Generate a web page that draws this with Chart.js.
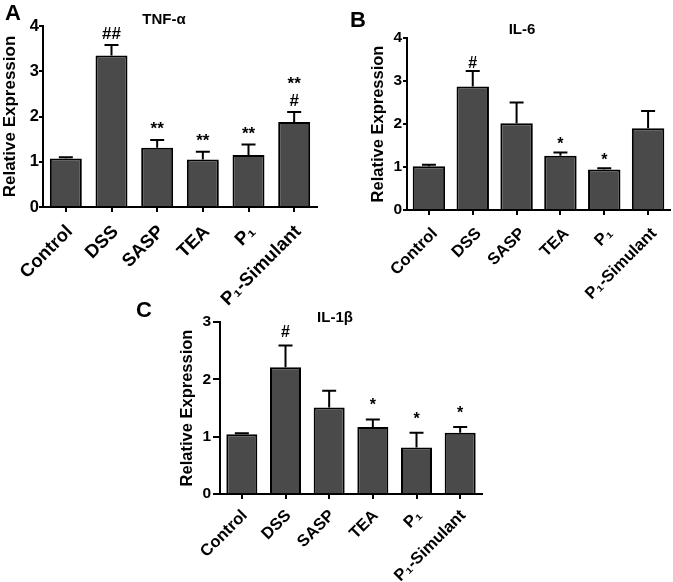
<!DOCTYPE html>
<html>
<head>
<meta charset="utf-8">
<script src="https://cdn.jsdelivr.net/npm/chart.js@4"></script>
<style>
  body { margin: 0; background: #fff; width: 673px; height: 582px; position: relative; overflow: hidden; font-family: "Liberation Sans", Arial, sans-serif; }
  canvas { position: absolute; }
  .lbl { position: absolute; font-weight: bold; color: #000; transform: translate(-50%, -50%); white-space: nowrap; }
</style>
</head>
<body>
<canvas id="chartA" width="335" height="310" style="left:0;top:0"></canvas>
<canvas id="chartB" width="333" height="310" style="left:340px;top:0"></canvas>
<canvas id="chartC" width="340" height="292" style="left:160px;top:290px"></canvas>

<div class="lbl" style="left:13px;top:13px;font-size:22px">A</div>
<div class="lbl" style="left:358px;top:20px;font-size:22px">B</div>
<div class="lbl" style="left:144px;top:310px;font-size:22px">C</div>
<div class="lbl" style="left:164px;top:18px;font-size:15px">TNF-α</div>
<div class="lbl" style="left:522px;top:28px;font-size:15px">IL-6</div>
<div class="lbl" style="left:335px;top:316px;font-size:15px">IL-1β</div>

<script>
const categories = ["Control", "DSS", "SASP", "TEA", "P₁", "P₁-Simulant"];

// A: TNF-α
const tnfMean = [1.07, 3.35, 1.31, 1.05, 1.15, 1.88];
const tnfErr = [0.03, 0.23, 0.17, 0.17, 0.23, 0.22];
const tnfMarks = [[], ["##"], ["**"], ["**"], ["**"], ["**", "#"]];

// B: IL-6
const il6Mean = [1.02, 2.87, 2.02, 1.26, 0.94, 1.90];
const il6Err = [0.03, 0.36, 0.48, 0.08, 0.03, 0.40];
const il6Marks = [[], ["#"], [], ["*"], ["*"], []];

// C: IL-1β
const il1bMean = [1.04, 2.21, 1.51, 1.17, 0.81, 1.07];
const il1bErr = [0.02, 0.38, 0.29, 0.13, 0.26, 0.10];
const il1bMarks = [[], ["#"], [], ["*"], ["*"], ["*"]];

const FONT = "'Liberation Sans', Arial, sans-serif";

// draws the upper error bar and the significance marks over each bar
function errorBars(style) {
  return {
    id: "errorBars",
    afterDatasetsDraw(chart) {
      const ctx = chart.ctx;
      const ds = chart.data.datasets[0];
      const y = chart.scales.y;
      const meta = chart.getDatasetMeta(0);
      ctx.save();
      ctx.strokeStyle = "#000";
      ctx.lineWidth = 2;
      ctx.fillStyle = "#000";
      ctx.font = "bold " + style.markSize + "px " + FONT;
      ctx.textAlign = "center";
      ctx.textBaseline = "alphabetic";
      meta.data.forEach((bar, i) => {
        const top = y.getPixelForValue(ds.data[i] + ds.errors[i]);
        ctx.beginPath();
        ctx.moveTo(bar.x, bar.y);
        ctx.lineTo(bar.x, top);
        ctx.moveTo(bar.x - style.cap / 2, top);
        ctx.lineTo(bar.x + style.cap / 2, top);
        ctx.stroke();
        const marks = ds.marks[i].slice().reverse();
        marks.forEach((m, k) => {
          ctx.fillText(m, bar.x, top - style.gap - k * style.lineH);
        });
      });
      ctx.restore();
    }
  };
}

function makeChart(id, mean, err, marks, yMax, look) {
  return new Chart(document.getElementById(id), {
    type: "bar",
    data: {
      labels: categories,
      datasets: [{
        data: mean,
        errors: err,
        marks: marks,
        backgroundColor: "#4a4a4a",
        borderColor: "#000",
        borderWidth: 2,
        barPercentage: look.barPct,
        categoryPercentage: 1
      }]
    },
    options: {
      responsive: false,
      animation: false,
      devicePixelRatio: 1,
      layout: { padding: look.pad },
      plugins: { legend: { display: false }, tooltip: { enabled: false } },
      scales: {
        x: {
          grid: { display: true, drawOnChartArea: false, offset: false, color: "#000", lineWidth: 2, tickLength: 5 },
          border: { color: "#000", width: 2 },
          ticks: {
            color: "#000",
            autoSkip: false,
            minRotation: 45,
            maxRotation: 45,
            padding: look.catPad,
            labelOffset: look.catShift,
            font: { family: FONT, weight: "bold", size: look.catSize }
          },
          afterFit: s => { s.height = look.xh; }
        },
        y: {
          min: 0,
          max: yMax,
          grid: { drawOnChartArea: false, color: "#000", lineWidth: 2, tickLength: look.tickLen },
          border: { color: "#000", width: 2 },
          ticks: {
            stepSize: 1,
            color: "#000",
            padding: look.tickPad,
            font: { family: FONT, weight: "bold", size: look.tickSize }
          },
          title: {
            display: true,
            text: "Relative Expression",
            color: "#000",
            padding: 0,
            font: { family: FONT, weight: "bold", size: look.titleSize }
          },
          afterFit: s => { s.width = look.yw; }
        }
      }
    },
    plugins: [errorBars(look.bars)]
  });
}

makeChart("chartA", tnfMean, tnfErr, tnfMarks, 4, {
  pad: { left: 0, right: 18, top: 26, bottom: 0 },
  yw: 43, xh: 103, barPct: 0.70,
  catSize: 18.5, catPad: 9, catShift: 4,
  tickSize: 16.5, titleSize: 17, tickLen: 4, tickPad: 0,
  bars: { cap: 14, gap: 6, lineH: 17, markSize: 17 }
});

makeChart("chartB", il6Mean, il6Err, il6Marks, 4, {
  pad: { left: 29, right: 3, top: 38, bottom: 0 },
  yw: 38, xh: 100, barPct: 0.74,
  catSize: 16.5, catPad: 9, catShift: 6,
  tickSize: 15.5, titleSize: 16.5, tickLen: 4, tickPad: 1,
  bars: { cap: 14, gap: 3, lineH: 16, markSize: 16 }
});

makeChart("chartC", il1bMean, il1bErr, il1bMarks, 3, {
  pad: { left: 18, right: 18, top: 32, bottom: 0 },
  yw: 42, xh: 88, barPct: 0.71,
  catSize: 16.5, catPad: 7, catShift: 3,
  tickSize: 15.5, titleSize: 16.5, tickLen: 7, tickPad: 2,
  bars: { cap: 14, gap: 9, lineH: 16, markSize: 16 }
});
</script>
</body>
</html>
